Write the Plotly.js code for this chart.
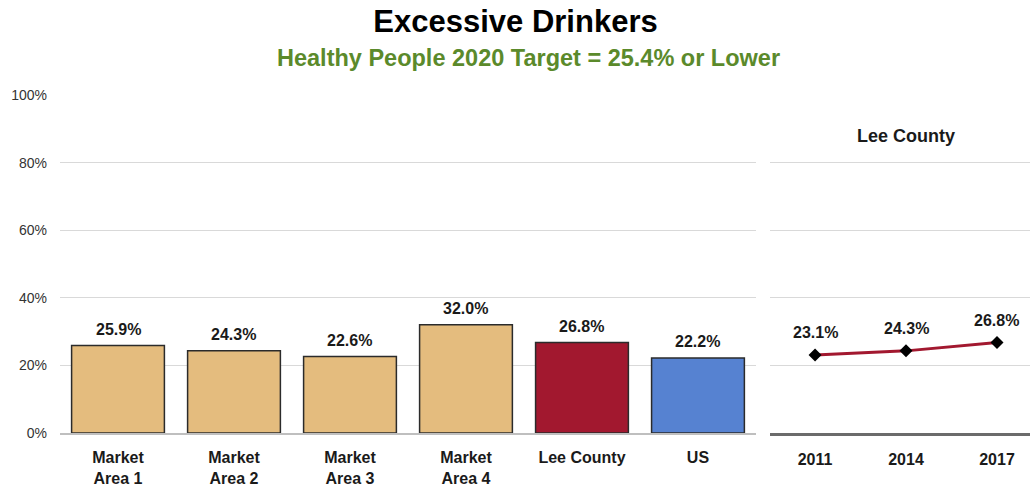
<!DOCTYPE html>
<html>
<head>
<meta charset="utf-8">
<script src="https://cdn.plot.ly/plotly-3.0.1.min.js"></script>
<style>html,body{margin:0;padding:0;background:#fff;}#chart{width:1031px;height:489px;}</style>
</head>
<body>
<div id="chart"></div>
<script>
// Data
const categories = ["Market<br>Area 1", "Market<br>Area 2", "Market<br>Area 3", "Market<br>Area 4", "Lee County", "US"];
const values = [25.9, 24.3, 22.6, 32.0, 26.8, 22.2];
const barColors = ["#E4BC7E", "#E4BC7E", "#E4BC7E", "#E4BC7E", "#A2182F", "#5682D1"];
const years = ["2011", "2014", "2017"];
const leeTrend = [23.1, 24.3, 26.8];
const yTicks = [0, 20, 40, 60, 80, 100];
const yTickLabels = ["0%", "20%", "40%", "60%", "80%", "100%"];

const FONT = "Liberation Sans, Arial, sans-serif";

const barTrace = {
  type: "bar", x: categories, y: values, xaxis: "x", yaxis: "y",
  marker: {color: barColors, line: {color: "#2b2b2b", width: 1.5}},
  hoverinfo: "skip"
};
const lineTrace = {
  type: "scatter", mode: "lines+markers", x: years, y: leeTrend, xaxis: "x2", yaxis: "y2",
  line: {color: "#A2182F", width: 3},
  marker: {symbol: "diamond", size: 10, color: "#000"},
  hoverinfo: "skip"
};

const annotations = [];
categories.forEach((c, i) => annotations.push({
  x: i, y: values[i], xref: "x", yref: "y", text: values[i].toFixed(1) + "%",
  showarrow: false, yanchor: "middle", yshift: 16,
  font: {family: FONT, size: 16, color: "#1a1a1a", weight: "bold"}
}));
years.forEach((yr, i) => annotations.push({
  x: i, y: leeTrend[i], xref: "x2", yref: "y2", text: leeTrend[i].toFixed(1) + "%",
  showarrow: false, yanchor: "middle", yshift: 22,
  font: {family: FONT, size: 16, color: "#1a1a1a", weight: "bold"}
}));
annotations.push({
  x: 1, y: 88, xref: "x2", yref: "y2", text: "Lee County", showarrow: false,
  font: {family: FONT, size: 18, color: "#1a1a1a", weight: "bold"}
});
annotations.push({
  x: 468 / 970, y: 1.1095, xref: "paper", yref: "paper", yanchor: "middle", xanchor: "center",
  text: "Healthy People 2020 Target = 25.4% or Lower", showarrow: false,
  font: {family: FONT, size: 23.5, color: "#5B8A2B", weight: "bold"}
});

const layout = {
  width: 1031, height: 489,
  margin: {l: 60, r: 1, t: 95, b: 56},
  paper_bgcolor: "#fff", plot_bgcolor: "#fff",
  showlegend: false,
  title: {text: "Excessive Drinkers", x: 0.5, xref: "container", xanchor: "center", y: 1 - 21 / 489, yref: "container", yanchor: "middle",
    font: {family: FONT, size: 31, color: "#000", weight: "bold"}},
  bargap: 0.2,
  xaxis: {domain: [0, 0.7175], type: "category", showgrid: false, showline: true, linecolor: "#bfbfbf", linewidth: 2,
    ticks: "", ticklabelstandoff: 9, tickfont: {family: FONT, size: 16, color: "#1a1a1a", weight: "bold"}, fixedrange: true},
  yaxis: {range: [0, 100], tickvals: yTicks, ticktext: yTickLabels, showgrid: true, gridcolor: "#d9d9d9", gridwidth: 1,
    zeroline: false, showline: false, ticklabelstandoff: 12,
    tickfont: {family: FONT, size: 14, color: "#333"}, fixedrange: true},
  xaxis2: {domain: [0.732, 1], anchor: "y2", type: "category", range: [-0.495, 2.363], showgrid: false, showline: true,
    linecolor: "#6b6b6b", linewidth: 2.5, ticks: "", ticklabelstandoff: 10,
    tickfont: {family: FONT, size: 16, color: "#1a1a1a", weight: "bold"}, fixedrange: true},
  yaxis2: {anchor: "x2", range: [0, 100], tickvals: yTicks, showticklabels: false, showgrid: true, gridcolor: "#d9d9d9",
    zeroline: false, showline: false, fixedrange: true},
  annotations: annotations,
  font: {family: FONT}
};

Plotly.newPlot("chart", [barTrace, lineTrace], layout, {displayModeBar: false, staticPlot: true});
</script>
</body>
</html>
